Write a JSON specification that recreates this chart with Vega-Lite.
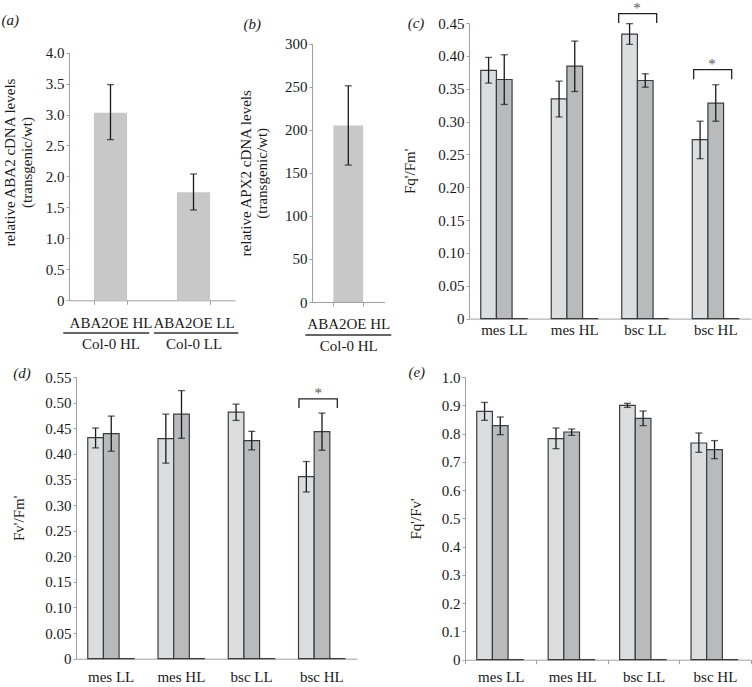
{
  "$schema": "https://vega.github.io/schema/vega-lite/v6.json",
  "background": "white",
  "padding": {"left": 0, "top": 0, "right": 0, "bottom": 0},
  "datasets": {
    "a": [
      {"g": "ABA2OE HL|Col-0 HL", "v": 3.03, "lo": 2.595, "hi": 3.483},
      {"g": "ABA2OE LL|Col-0 LL", "v": 1.744, "lo": 1.459, "hi": 2.04}
    ],
    "aLine": [{"x1": -0.069, "x2": 0.967}, {"x1": 1.024, "x2": 2.04}],
    "b": [{"g": "ABA2OE HL|Col-0 HL", "v": 205, "lo": 159, "hi": 251}],
    "bLine": [{"x1": -0.092, "x2": 1.092}],
    "c": [
      {"cat": "mes LL", "s": "A", "v": 0.378, "lo": 0.3585, "hi": 0.3976},
      {"cat": "mes LL", "s": "B", "v": 0.364, "lo": 0.326, "hi": 0.4017},
      {"cat": "mes LL", "s": "C", "v": 0},
      {"cat": "mes HL", "s": "A", "v": 0.3345, "lo": 0.307, "hi": 0.3615},
      {"cat": "mes HL", "s": "B", "v": 0.3844, "lo": 0.3457, "hi": 0.4225},
      {"cat": "mes HL", "s": "C", "v": 0},
      {"cat": "bsc LL", "s": "A", "v": 0.4332, "lo": 0.4175, "hi": 0.449},
      {"cat": "bsc LL", "s": "B", "v": 0.3625, "lo": 0.3523, "hi": 0.3727},
      {"cat": "bsc LL", "s": "C", "v": 0},
      {"cat": "bsc HL", "s": "A", "v": 0.2725, "lo": 0.2435, "hi": 0.3005},
      {"cat": "bsc HL", "s": "B", "v": 0.328, "lo": 0.3005, "hi": 0.356},
      {"cat": "bsc HL", "s": "C", "v": 0}
    ],
    "cBr": [
      {"k": 1, "o": 1, "bx": 2.123, "by": 0.45},
      {"k": 1, "o": 2, "bx": 2.123, "by": 0.4642},
      {"k": 1, "o": 3, "bx": 2.662, "by": 0.4642},
      {"k": 1, "o": 4, "bx": 2.662, "by": 0.45},
      {"k": 2, "o": 1, "bx": 3.187, "by": 0.3642},
      {"k": 2, "o": 2, "bx": 3.187, "by": 0.3789},
      {"k": 2, "o": 3, "bx": 3.726, "by": 0.3789},
      {"k": 2, "o": 4, "bx": 3.726, "by": 0.3642}
    ],
    "cStar": [{"sx": 2.383, "sy": 0.4642}, {"sx": 3.447, "sy": 0.3789}],
    "d": [
      {"cat": "mes LL", "s": "A", "v": 0.4316, "lo": 0.4116, "hi": 0.4504},
      {"cat": "mes LL", "s": "B", "v": 0.4394, "lo": 0.405, "hi": 0.4737},
      {"cat": "mes LL", "s": "C", "v": 0},
      {"cat": "mes HL", "s": "A", "v": 0.4297, "lo": 0.3818, "hi": 0.4775},
      {"cat": "mes HL", "s": "B", "v": 0.4775, "lo": 0.4303, "hi": 0.5235},
      {"cat": "mes HL", "s": "C", "v": 0},
      {"cat": "bsc LL", "s": "A", "v": 0.4814, "lo": 0.4652, "hi": 0.497},
      {"cat": "bsc LL", "s": "B", "v": 0.4258, "lo": 0.4077, "hi": 0.4439},
      {"cat": "bsc LL", "s": "C", "v": 0},
      {"cat": "bsc HL", "s": "A", "v": 0.3553, "lo": 0.3255, "hi": 0.385},
      {"cat": "bsc HL", "s": "B", "v": 0.4433, "lo": 0.407, "hi": 0.4795},
      {"cat": "bsc HL", "s": "C", "v": 0}
    ],
    "dBr": [
      {"k": 1, "o": 1, "bx": 3.174, "by": 0.4897},
      {"k": 1, "o": 2, "bx": 3.174, "by": 0.5072},
      {"k": 1, "o": 3, "bx": 3.72, "by": 0.5072},
      {"k": 1, "o": 4, "bx": 3.72, "by": 0.4897}
    ],
    "dStar": [{"sx": 3.449, "sy": 0.5072}],
    "e": [
      {"cat": "mes LL", "s": "A", "v": 0.8785, "lo": 0.8467, "hi": 0.91},
      {"cat": "mes LL", "s": "B", "v": 0.828, "lo": 0.796, "hi": 0.8585},
      {"cat": "mes LL", "s": "C", "v": 0},
      {"cat": "mes HL", "s": "A", "v": 0.782, "lo": 0.7465, "hi": 0.8196},
      {"cat": "mes HL", "s": "B", "v": 0.8054, "lo": 0.7936, "hi": 0.816},
      {"cat": "mes HL", "s": "C", "v": 0},
      {"cat": "bsc LL", "s": "A", "v": 0.8998, "lo": 0.8925, "hi": 0.9068},
      {"cat": "bsc LL", "s": "B", "v": 0.8538, "lo": 0.828, "hi": 0.8797},
      {"cat": "bsc LL", "s": "C", "v": 0},
      {"cat": "bsc HL", "s": "A", "v": 0.7665, "lo": 0.7335, "hi": 0.802},
      {"cat": "bsc HL", "s": "B", "v": 0.743, "lo": 0.711, "hi": 0.775},
      {"cat": "bsc HL", "s": "C", "v": 0}
    ]
  },
  "config": {
    "view": {"stroke": null},
    "font": "Liberation Serif",
    "axis": {
      "labelFont": "Liberation Serif", "titleFont": "Liberation Serif",
      "labelFontSize": 15, "titleFontSize": 15, "titleFontWeight": "normal",
      "labelColor": "#1a1a1a", "titleColor": "#1a1a1a", "labelOverlap": false,
      "domainColor": "#a0a0a0", "tickColor": "#a0a0a0", "grid": false
    },
    "text": {"font": "Liberation Serif", "fontSize": 15, "fill": "#1a1a1a"}
  },
  "spacing": 10,
  "vconcat": [
    {
      "bounds": "flush",
      "spacing": 0,
      "hconcat": [
        {"width": 69, "height": 1, "data": {"values": [{}]}, "mark": {"type": "point", "opacity": 0}, "encoding": {}},
        {
          "width": 166, "height": 277.3,
          "resolve": {"scale": {"x": "independent"}},
          "layer": [
            {
              "data": {"name": "a"},
              "layer": [
                {
                  "mark": {"type": "bar", "color": "#c8c8c8"},
                  "encoding": {
                    "x": {"field": "g", "type": "nominal", "sort": null,
                      "scale": {"paddingInner": 0.6, "paddingOuter": 0.3},
                      "axis": {"title": null, "labelAngle": 0, "labelExpr": "datum.label == 'ABA2OE HL|Col-0 HL' ? ['ABA2OE HL\u00a0\u00a0', 'Col-0 HL\u00a0\u00a0\u00a0\u00a0'] : datum.label == 'ABA2OE LL|Col-0 LL' ? ['\u00a0ABA2OE LL', 'Col-0 LL'] : ''", "labelLineHeight": 21.6, "tickBand": "extent", "tickSize": 4, "labelPadding": 10.8}},
                    "y": {"field": "v", "type": "quantitative", "scale": {"domain": [0, 4], "nice": false, "range": [277.3, 29.6]},
                      "axis": {"title": ["relative ABA2 cDNA levels", "(transgenic/wt)"], "values": [0, 0.5, 1, 1.5, 2, 2.5, 3, 3.5, 4], "tickCount": 20, "labelOverlap": false,
                        "labelExpr": "datum.value == 0 ? '0' : format(datum.value, '.1f')", "titleLineHeight": 17, "titlePadding": 11, "titleY": 139, "tickSize": 3, "labelPadding": 2}}
                  }
                },
                {
                  "mark": {"type": "rule", "color": "#1a1a1a", "strokeWidth": 1.3},
                  "encoding": {
                    "x": {"field": "g", "type": "nominal", "sort": null},
                    "y": {"field": "lo", "type": "quantitative"},
                    "y2": {"field": "hi"}
                  }
                },
                {
                  "mark": {"type": "tick", "color": "#1a1a1a", "thickness": 1.3, "size": 7},
                  "encoding": {"x": {"field": "g", "type": "nominal", "sort": null}, "y": {"field": "lo", "type": "quantitative"}}
                },
                {
                  "mark": {"type": "tick", "color": "#1a1a1a", "thickness": 1.3, "size": 7},
                  "encoding": {"x": {"field": "g", "type": "nominal", "sort": null}, "y": {"field": "hi", "type": "quantitative"}}
                }
              ]
            },
            {
              "data": {"name": "aLine"},
              "mark": {"type": "rule", "color": "#333333", "strokeWidth": 1.3, "clip": false},
              "encoding": {
                "x": {"field": "x1", "type": "quantitative", "scale": {"domain": [0, 2], "nice": false, "zero": false}, "axis": null},
                "x2": {"field": "x2"},
                "y": {"datum": -0.528, "type": "quantitative"}
              }
            },
            {
              "data": {"values": [{}]},
              "mark": {"type": "text", "text": "(a)", "fontStyle": "italic", "align": "left", "baseline": "middle", "clip": false},
              "encoding": {
                "x": {"datum": -0.813, "type": "quantitative", "scale": {"domain": [0, 2], "nice": false, "zero": false}, "axis": null},
                "y": {"datum": 4.522, "type": "quantitative"}
              }
            }
          ]
        },
        {"width": 76.7, "height": 1, "data": {"values": [{}]}, "mark": {"type": "point", "opacity": 0}, "encoding": {}},
        {
          "width": 72.6, "height": 279,
          "resolve": {"scale": {"x": "independent"}},
          "layer": [
            {
              "data": {"name": "b"},
              "layer": [
                {
                  "mark": {"type": "bar", "color": "#c8c8c8"},
                  "encoding": {
                    "x": {"field": "g", "type": "nominal", "sort": null,
                      "scale": {"paddingInner": 0.59, "paddingOuter": 0.295},
                      "axis": {"title": null, "labelAngle": 0, "labelExpr": "datum.label ? split(datum.label, '|') : ''", "labelLineHeight": 21.6, "tickBand": "extent", "tickSize": 4, "labelPadding": 10.8}},
                    "y": {"field": "v", "type": "quantitative", "scale": {"domain": [0, 300], "nice": false, "range": [279, 20.6]},
                      "axis": {"title": ["relative APX2 cDNA levels", "(transgenic/wt)"], "values": [0, 50, 100, 150, 200, 250, 300], "tickCount": 20, "labelOverlap": false,
                        "titleLineHeight": 16, "titlePadding": 15, "tickSize": 3, "labelPadding": 2}}
                  }
                },
                {
                  "mark": {"type": "rule", "color": "#1a1a1a", "strokeWidth": 1.3},
                  "encoding": {
                    "x": {"field": "g", "type": "nominal", "sort": null},
                    "y": {"field": "lo", "type": "quantitative"},
                    "y2": {"field": "hi"}
                  }
                },
                {
                  "mark": {"type": "tick", "color": "#1a1a1a", "thickness": 1.3, "size": 7},
                  "encoding": {"x": {"field": "g", "type": "nominal", "sort": null}, "y": {"field": "lo", "type": "quantitative"}}
                },
                {
                  "mark": {"type": "tick", "color": "#1a1a1a", "thickness": 1.3, "size": 7},
                  "encoding": {"x": {"field": "g", "type": "nominal", "sort": null}, "y": {"field": "hi", "type": "quantitative"}}
                }
              ]
            },
            {
              "data": {"name": "bLine"},
              "mark": {"type": "rule", "color": "#333333", "strokeWidth": 1.3, "clip": false},
              "encoding": {
                "x": {"field": "x1", "type": "quantitative", "scale": {"domain": [0, 1], "nice": false, "zero": false}, "axis": null},
                "x2": {"field": "x2"},
                "y": {"datum": -38.3, "type": "quantitative"}
              }
            },
            {
              "data": {"values": [{}]},
              "mark": {"type": "text", "text": "(b)", "fontStyle": "italic", "align": "left", "baseline": "middle", "clip": false},
              "encoding": {
                "x": {"datum": -0.942, "type": "quantitative", "scale": {"domain": [0, 1], "nice": false, "zero": false}, "axis": null},
                "y": {"datum": 322.2, "type": "quantitative"}
              }
            }
          ]
        },
        {"width": 83.7, "height": 1, "data": {"values": [{}]}, "mark": {"type": "point", "opacity": 0}, "encoding": {}},
        {
          "width": 282, "height": 295.6,
          "resolve": {"scale": {"x": "independent"}},
          "layer": [
            {
              "data": {"name": "c"},
              "layer": [
                {
                  "mark": {"type": "bar", "stroke": "#3c3c3c", "strokeWidth": 1.2},
                  "encoding": {
                    "x": {"field": "cat", "type": "nominal", "sort": null, "scale": {"paddingInner": 0, "paddingOuter": 0},
                      "axis": {"title": null, "labelAngle": 0, "ticks": false, "labelPadding": 4}},
                    "xOffset": {"field": "s", "type": "nominal", "scale": {"domain": ["A", "B", "C"], "paddingInner": 0, "paddingOuter": 0.75}},
                    "y": {"field": "v", "type": "quantitative", "scale": {"domain": [0, 0.45], "nice": false},
                      "axis": {"title": "Fq'/Fm'", "values": [0, 0.05, 0.1, 0.15, 0.2, 0.25, 0.3, 0.35, 0.4, 0.45], "tickCount": 20, "labelOverlap": false,
                        "labelExpr": "datum.value == 0 ? '0' : format(datum.value, '.2f')", "tickSize": 3, "labelPadding": 2, "titlePadding": 20}},
                    "color": {"field": "s", "type": "nominal", "scale": {"domain": ["A", "B", "C"], "range": ["#dcdddf", "#b9babc", "#b9babc"]}, "legend": null}
                  }
                },
                {
                  "transform": [{"filter": "datum.s != 'C'"}],
                  "mark": {"type": "rule", "color": "#1a1a1a", "strokeWidth": 1.3},
                  "encoding": {
                    "x": {"field": "cat", "type": "nominal", "sort": null},
                    "xOffset": {"field": "s", "type": "nominal", "scale": {"domain": ["A", "B", "C"]}},
                    "y": {"field": "lo", "type": "quantitative"},
                    "y2": {"field": "hi"}
                  }
                },
                {
                  "transform": [{"filter": "datum.s != 'C'"}],
                  "mark": {"type": "tick", "color": "#1a1a1a", "thickness": 1.3, "size": 7},
                  "encoding": {
                    "x": {"field": "cat", "type": "nominal", "sort": null},
                    "xOffset": {"field": "s", "type": "nominal", "scale": {"domain": ["A", "B", "C"]}},
                    "y": {"field": "lo", "type": "quantitative"}
                  }
                },
                {
                  "transform": [{"filter": "datum.s != 'C'"}],
                  "mark": {"type": "tick", "color": "#1a1a1a", "thickness": 1.3, "size": 7},
                  "encoding": {
                    "x": {"field": "cat", "type": "nominal", "sort": null},
                    "xOffset": {"field": "s", "type": "nominal", "scale": {"domain": ["A", "B", "C"]}},
                    "y": {"field": "hi", "type": "quantitative"}
                  }
                }
              ]
            },
            {
              "data": {"name": "cBr"},
              "mark": {"type": "line", "color": "#222222", "strokeWidth": 1.3, "clip": false},
              "encoding": {
                "x": {"field": "bx", "type": "quantitative", "scale": {"domain": [0, 4], "nice": false, "zero": false}, "axis": null},
                "y": {"field": "by", "type": "quantitative"},
                "detail": {"field": "k", "type": "nominal"},
                "order": {"field": "o", "type": "quantitative"}
              }
            },
            {
              "data": {"name": "cStar"},
              "mark": {"type": "text", "text": "*", "fill": "#555555", "baseline": "alphabetic", "align": "center", "dy": -1, "clip": false},
              "encoding": {
                "x": {"field": "sx", "type": "quantitative", "scale": {"domain": [0, 4], "nice": false, "zero": false}, "axis": null},
                "y": {"field": "sy", "type": "quantitative"}
              }
            },
            {
              "data": {"values": [{}]},
              "mark": {"type": "text", "text": "(c)", "fontStyle": "italic", "align": "left", "baseline": "middle", "clip": false},
              "encoding": {
                "x": {"datum": -0.8695, "type": "quantitative", "scale": {"domain": [0, 4], "nice": false, "zero": false}, "axis": null},
                "y": {"datum": 0.45, "type": "quantitative"}
              }
            }
          ]
        }
      ]
    },
    {
      "bounds": "flush",
      "spacing": 0,
      "hconcat": [
        {"width": 76, "height": 1, "data": {"values": [{}]}, "mark": {"type": "point", "opacity": 0}, "encoding": {}},
        {
          "width": 281, "height": 281.7,
          "resolve": {"scale": {"x": "independent"}},
          "layer": [
            {
              "data": {"name": "d"},
              "layer": [
                {
                  "mark": {"type": "bar", "stroke": "#3c3c3c", "strokeWidth": 1.2},
                  "encoding": {
                    "x": {"field": "cat", "type": "nominal", "sort": null, "scale": {"paddingInner": 0, "paddingOuter": 0},
                      "axis": {"title": null, "labelAngle": 0, "ticks": false, "labelPadding": 11, "labelDx": -7}},
                    "xOffset": {"field": "s", "type": "nominal", "scale": {"domain": ["A", "B", "C"], "paddingInner": 0, "paddingOuter": 0.75}},
                    "y": {"field": "v", "type": "quantitative", "scale": {"domain": [0, 0.55], "nice": false},
                      "axis": {"title": "Fv'/Fm'", "values": [0, 0.05, 0.1, 0.15, 0.2, 0.25, 0.3, 0.35, 0.4, 0.45, 0.5, 0.55], "tickCount": 20, "labelOverlap": false,
                        "labelExpr": "datum.value == 0 ? '0' : format(datum.value, '.2f')", "tickSize": 3, "labelPadding": 2, "titlePadding": 18}},
                    "color": {"field": "s", "type": "nominal", "scale": {"domain": ["A", "B", "C"], "range": ["#dcdddf", "#b9babc", "#b9babc"]}, "legend": null}
                  }
                },
                {
                  "transform": [{"filter": "datum.s != 'C'"}],
                  "mark": {"type": "rule", "color": "#1a1a1a", "strokeWidth": 1.3},
                  "encoding": {
                    "x": {"field": "cat", "type": "nominal", "sort": null},
                    "xOffset": {"field": "s", "type": "nominal", "scale": {"domain": ["A", "B", "C"]}},
                    "y": {"field": "lo", "type": "quantitative"},
                    "y2": {"field": "hi"}
                  }
                },
                {
                  "transform": [{"filter": "datum.s != 'C'"}],
                  "mark": {"type": "tick", "color": "#1a1a1a", "thickness": 1.3, "size": 7},
                  "encoding": {
                    "x": {"field": "cat", "type": "nominal", "sort": null},
                    "xOffset": {"field": "s", "type": "nominal", "scale": {"domain": ["A", "B", "C"]}},
                    "y": {"field": "lo", "type": "quantitative"}
                  }
                },
                {
                  "transform": [{"filter": "datum.s != 'C'"}],
                  "mark": {"type": "tick", "color": "#1a1a1a", "thickness": 1.3, "size": 7},
                  "encoding": {
                    "x": {"field": "cat", "type": "nominal", "sort": null},
                    "xOffset": {"field": "s", "type": "nominal", "scale": {"domain": ["A", "B", "C"]}},
                    "y": {"field": "hi", "type": "quantitative"}
                  }
                }
              ]
            },
            {
              "data": {"name": "dBr"},
              "mark": {"type": "line", "color": "#222222", "strokeWidth": 1.3, "clip": false},
              "encoding": {
                "x": {"field": "bx", "type": "quantitative", "scale": {"domain": [0, 4], "nice": false, "zero": false}, "axis": null},
                "y": {"field": "by", "type": "quantitative"},
                "detail": {"field": "k", "type": "nominal"},
                "order": {"field": "o", "type": "quantitative"}
              }
            },
            {
              "data": {"name": "dStar"},
              "mark": {"type": "text", "text": "*", "fill": "#555555", "baseline": "alphabetic", "align": "center", "dy": -1, "clip": false},
              "encoding": {
                "x": {"field": "sx", "type": "quantitative", "scale": {"domain": [0, 4], "nice": false, "zero": false}, "axis": null},
                "y": {"field": "sy", "type": "quantitative"}
              }
            },
            {
              "data": {"values": [{}]},
              "mark": {"type": "text", "text": "(d)", "fontStyle": "italic", "align": "left", "baseline": "middle", "clip": false},
              "encoding": {
                "x": {"datum": -0.8925, "type": "quantitative", "scale": {"domain": [0, 4], "nice": false, "zero": false}, "axis": null},
                "y": {"datum": 0.5578, "type": "quantitative"}
              }
            }
          ]
        },
        {"width": 107.3, "height": 1, "data": {"values": [{}]}, "mark": {"type": "point", "opacity": 0}, "encoding": {}},
        {
          "width": 285.7, "height": 282.7,
          "resolve": {"scale": {"x": "independent"}},
          "layer": [
            {
              "data": {"name": "e"},
              "layer": [
                {
                  "mark": {"type": "bar", "stroke": "#3c3c3c", "strokeWidth": 1.2},
                  "encoding": {
                    "x": {"field": "cat", "type": "nominal", "sort": null, "scale": {"paddingInner": 0, "paddingOuter": 0},
                      "axis": {"title": null, "labelAngle": 0, "tickBand": "extent", "tickSize": 4, "labelPadding": 6, "labelDx": -7}},
                    "xOffset": {"field": "s", "type": "nominal", "scale": {"domain": ["A", "B", "C"], "paddingInner": 0, "paddingOuter": 0.75}},
                    "y": {"field": "v", "type": "quantitative", "scale": {"domain": [0, 1], "nice": false},
                      "axis": {"title": "Fq'/Fv'", "values": [0, 0.1, 0.2, 0.3, 0.4, 0.5, 0.6, 0.7, 0.8, 0.9, 1], "tickCount": 20, "labelOverlap": false,
                        "labelExpr": "datum.value == 0 ? '0' : format(datum.value, '.1f')", "tickSize": 3, "labelPadding": 2, "titlePadding": 18}},
                    "color": {"field": "s", "type": "nominal", "scale": {"domain": ["A", "B", "C"], "range": ["#dcdddf", "#b9babc", "#b9babc"]}, "legend": null}
                  }
                },
                {
                  "transform": [{"filter": "datum.s != 'C'"}],
                  "mark": {"type": "rule", "color": "#1a1a1a", "strokeWidth": 1.3},
                  "encoding": {
                    "x": {"field": "cat", "type": "nominal", "sort": null},
                    "xOffset": {"field": "s", "type": "nominal", "scale": {"domain": ["A", "B", "C"]}},
                    "y": {"field": "lo", "type": "quantitative"},
                    "y2": {"field": "hi"}
                  }
                },
                {
                  "transform": [{"filter": "datum.s != 'C'"}],
                  "mark": {"type": "tick", "color": "#1a1a1a", "thickness": 1.3, "size": 7},
                  "encoding": {
                    "x": {"field": "cat", "type": "nominal", "sort": null},
                    "xOffset": {"field": "s", "type": "nominal", "scale": {"domain": ["A", "B", "C"]}},
                    "y": {"field": "lo", "type": "quantitative"}
                  }
                },
                {
                  "transform": [{"filter": "datum.s != 'C'"}],
                  "mark": {"type": "tick", "color": "#1a1a1a", "thickness": 1.3, "size": 7},
                  "encoding": {
                    "x": {"field": "cat", "type": "nominal", "sort": null},
                    "xOffset": {"field": "s", "type": "nominal", "scale": {"domain": ["A", "B", "C"]}},
                    "y": {"field": "hi", "type": "quantitative"}
                  }
                }
              ]
            },
            {
              "data": {"values": [{}]},
              "mark": {"type": "text", "text": "(e)", "fontStyle": "italic", "align": "left", "baseline": "middle", "clip": false},
              "encoding": {
                "x": {"datum": -0.7925, "type": "quantitative", "scale": {"domain": [0, 4], "nice": false, "zero": false}, "axis": null},
                "y": {"datum": 1.0177, "type": "quantitative"}
              }
            }
          ]
        }
      ]
    }
  ]
}
